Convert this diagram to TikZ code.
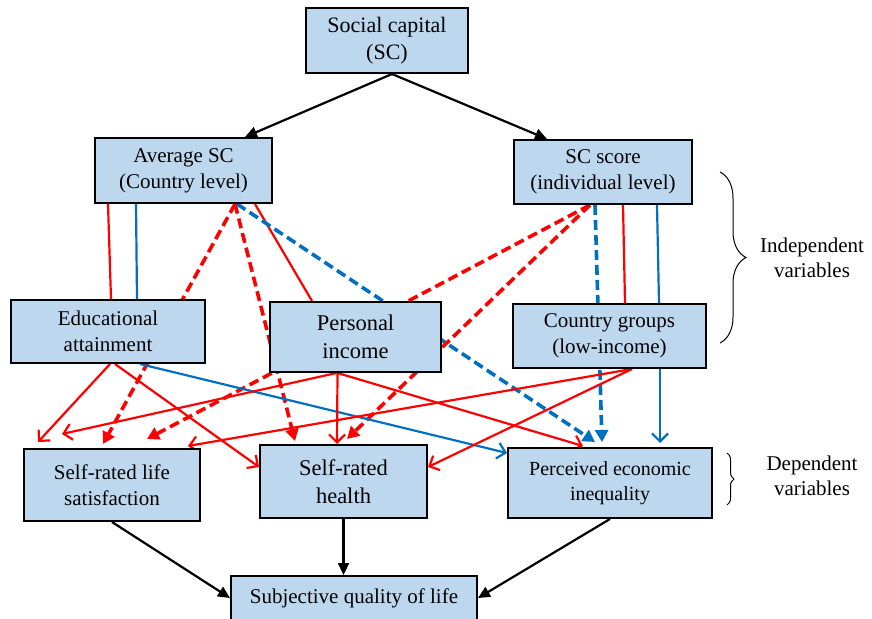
\documentclass[tikz,border=0pt]{standalone}
\usepackage{fontspec}
\setmainfont{Liberation Serif}
\usepackage{tikz}
\usetikzlibrary{
  arrows.meta,
  positioning,
  backgrounds,
  decorations.pathreplacing
}
\definecolor{scFill}{HTML}{BDD7EE}
\definecolor{scRed}{HTML}{FF0000}
\definecolor{scBlue}{HTML}{0070C0}
\tikzset{
  varbox/.style={
    draw=black, line width=2pt, fill=scFill, align=center, inner sep=0pt,
    font=\fontsize{21}{26}\selectfont
  },
  bigbox/.style={varbox, font=\fontsize{22.5}{28}\selectfont},
  mainarrow/.style={-{Triangle[length=12pt,width=11pt]}, line width=2.2pt, black},
  redlink/.style={line width=2.2pt, scRed},
  bluelink/.style={line width=2.2pt, scBlue},
  redpath/.style={redlink, -{Straight Barb[length=8pt,width=16pt]}},
  bluepath/.style={bluelink, -{Straight Barb[length=8pt,width=16pt]}},
  reddash/.style={line width=3.6pt, scRed, dash pattern=on 10pt off 5pt, -{Triangle[length=12pt,width=13pt]}},
  bluedash/.style={line width=3.6pt, scBlue, dash pattern=on 10pt off 5pt, -{Triangle[length=12pt,width=13pt]}},
  grouplabel/.style={font=\fontsize{21}{25}\selectfont, align=center},
  groupbrace/.style={decorate, line width=1pt}
}
\begin{document}
\begin{tikzpicture}[x=1pt, y=-1pt]
  \useasboundingbox (0,0) rectangle (872,618);
  \node[varbox, minimum width=162pt, minimum height=65pt, font=\fontsize{22}{27}\selectfont] (sc) at (387,40.5) {Social capital\\(SC)};
  \node[varbox, minimum width=177pt, minimum height=65pt] (avg) at (183.5,170.5) {Average SC\\(Country level)};
  \node[varbox, minimum width=178pt, minimum height=64pt] (score) at (603,172) {SC score\\(individual level)};
  \node[varbox, minimum width=194pt, minimum height=63pt] (educ) at (108,331.5) {Educational\\attainment};
  \node[bigbox, minimum width=171pt, minimum height=70pt] (income) at (355.5,337) {Personal\\income};
  \node[varbox, minimum width=193pt, minimum height=64pt] (country) at (609.5,336) {Country groups\\(low-income)};
  \node[varbox, minimum width=176pt, minimum height=72pt] (life) at (112,485) {Self-rated life\\satisfaction};
  \node[bigbox, minimum width=167pt, minimum height=73pt] (health) at (343.5,481.5) {Self-rated\\health};
  \node[varbox, minimum width=204pt, minimum height=70pt, font=\fontsize{20}{25}\selectfont] (ineq) at (610,483) {Perceived economic\\inequality};
  \node[varbox, minimum width=246pt, minimum height=44pt] (qol) at (354,598) {Subjective quality of life};

  \coordinate (indtop) at (720,172);
  \coordinate (indbot) at (720,343);
  \coordinate (deptop) at (727,453);
  \coordinate (depbot) at (727,505);
  \draw[groupbrace, decoration={brace, amplitude=26pt}] (indtop) -- (indbot);
  \draw[groupbrace, decoration={brace, amplitude=7pt}] (deptop) -- (depbot);
  \node[grouplabel] (indlabel) at (812,258) {Independent\\variables};
  \node[grouplabel] (deplabel) at (812,476) {Dependent\\variables};

  \begin{scope}[on background layer]
    \draw[mainarrow] ([xshift=5pt]sc.south) -- ([xshift=61.5pt]avg.north);
    \draw[mainarrow] ([xshift=5pt]sc.south) -- ([xshift=-56pt]score.north);
    \draw[mainarrow] (life.south) -- (qol.west);
    \draw[mainarrow] (health.south) -- (health.south |- qol.north);
    \draw[mainarrow] (ineq.south) -- (qol.east);

    \draw[redlink] ([xshift=-75.5pt]avg.south) -- ([xshift=3pt]educ.north);
    \draw[bluelink] ([xshift=-47.5pt]avg.south) -- ([xshift=29pt]educ.north);
    \draw[redlink] ([xshift=71.5pt]avg.south) -- ([xshift=-43.5pt]income.north);
    \draw[reddash] ([xshift=51.5pt]avg.south) -- ([xshift=-9pt,yshift=4pt]life.north);
    \draw[reddash] ([xshift=51.5pt]avg.south) -- ([xshift=-48.5pt,yshift=3pt]health.north);
    \draw[bluedash] ([xshift=53.5pt]avg.south) -- ([xshift=-15pt,yshift=5pt]ineq.north);

    \draw[reddash] ([xshift=-13pt]score.south) -- ([xshift=35pt,yshift=9pt]life.north);
    \draw[reddash] ([xshift=-13pt]score.south) -- ([xshift=3.5pt,yshift=5pt]health.north);
    \draw[bluedash] ([xshift=-8pt]score.south) -- ([xshift=-8pt,yshift=5pt]ineq.north);
    \draw[redlink] ([xshift=20pt]score.south) -- ([xshift=15.5pt]country.north);
    \draw[bluelink] ([xshift=54pt]score.south) -- ([xshift=49.5pt]country.north);

    \draw[redpath] ([xshift=2pt]educ.south) -- ([xshift=-74pt,yshift=6pt]life.north);
    \draw[redpath] ([xshift=7pt]educ.south) -- ([yshift=14.5pt]health.west);
    \draw[bluepath] ([xshift=32pt]educ.south) -- ([yshift=30pt]ineq.west);

    \draw[redpath] ([xshift=-19pt]income.south) -- ([xshift=-50pt,yshift=14pt]life.north);
    \draw[redpath] ([xshift=-18pt]income.south) -- ([xshift=-6.5pt]health.north);
    \draw[redpath] ([xshift=-18pt]income.south) -- ([xshift=-27pt,yshift=1pt]ineq.north);

    \draw[redpath] ([xshift=22.5pt]country.south) -- ([xshift=76pt,yshift=2pt]life.north);
    \draw[redpath] ([xshift=22.5pt]country.south) -- ([yshift=14.5pt]health.east);
    \draw[bluepath] ([xshift=50.5pt]country.south) -- ([xshift=50pt,yshift=4pt]ineq.north);
  \end{scope}
\end{tikzpicture}
\end{document}
